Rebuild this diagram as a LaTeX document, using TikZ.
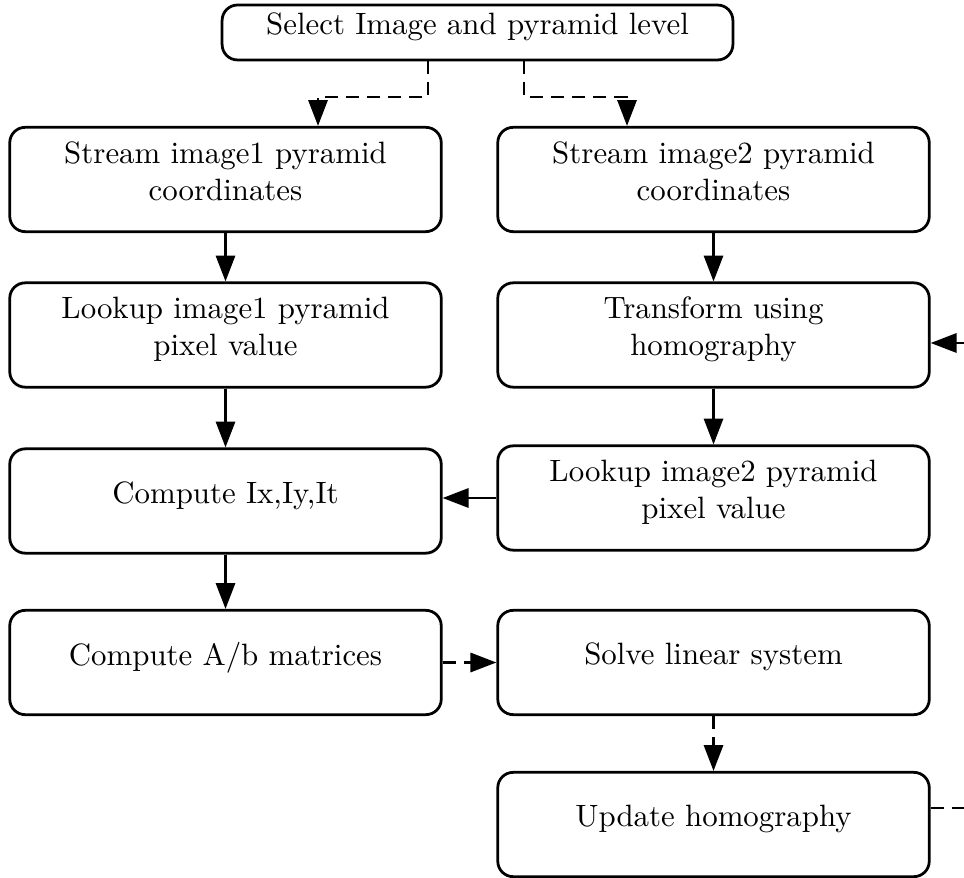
\documentclass[tikz,border=0pt]{standalone}
\usetikzlibrary{arrows.meta}
\begin{document}
\begin{tikzpicture}[x=0.324pt,y=-0.324pt,
  box/.style={draw,line width=0.9pt,rounded corners=5pt,minimum width=139.8pt,minimum height=33.8pt,align=center,inner sep=0pt,text depth=5.6pt},
  topbox/.style={draw,line width=0.9pt,rounded corners=5pt,minimum width=165.5pt,minimum height=17.8pt,inner sep=0pt,text height=6.94pt,text depth=5.4pt},
  arr/.style={line width=0.9pt,-{Triangle[length=8.4pt,width=6.2pt]}},
  dsh/.style={arr,dash pattern=on 4.2pt off 2.6pt}]
\useasboundingbox (0,0) rectangle (964,878);
\clip (0,0) rectangle (964,878);
\node[topbox] (top) at (477.5,32.5) {Select Image and pyramid level};
\node[box] (s1) at (225.5,179.5) {Stream image1 pyramid\\coordinates};
\node[box] (s2) at (713.5,179.5) {Stream image2 pyramid\\coordinates};
\node[box] (l1) at (225.5,335) {Lookup image1 pyramid\\pixel value};
\node[box] (tr) at (713.5,335) {Transform using\\homography};
\node[box] (ci) at (225.5,501) {Compute Ix,Iy,It};
\node[box] (l2) at (713.5,498) {Lookup image2 pyramid\\pixel value};
\node[box] (ca) at (225.5,662.5) {Compute A/b matrices};
\node[box] (so) at (713.5,662.5) {Solve linear system};
\node[box] (up) at (713.5,824.5) {Update homography};
\coordinate (d1) at (428,97);
\coordinate (d2) at (524,97);
\coordinate (a1) at (318,0);
\coordinate (a2) at (627,0);
\coordinate (lp) at (1000,808);
\coordinate (ti) at (0,343);
\draw[dsh] (top.south -| d1) -- (d1) -| (s1.north -| a1);
\draw[dsh] (top.south -| d2) -- (d2) -| (s2.north -| a2);
\draw[arr] (s1) -- (l1);
\draw[arr] (l1) -- (ci);
\draw[arr] (ci) -- (ca);
\draw[arr] (s2) -- (tr);
\draw[arr] (tr) -- (l2);
\draw[arr] (l2.west) -- (l2.west -| ci.east);
\draw[dsh] (ca.east) -- (so.west);
\draw[dsh] (so) -- (up);
\draw[dsh] (up.east |- lp) -- (lp) |- (tr.east |- ti);
\end{tikzpicture}
\end{document}
